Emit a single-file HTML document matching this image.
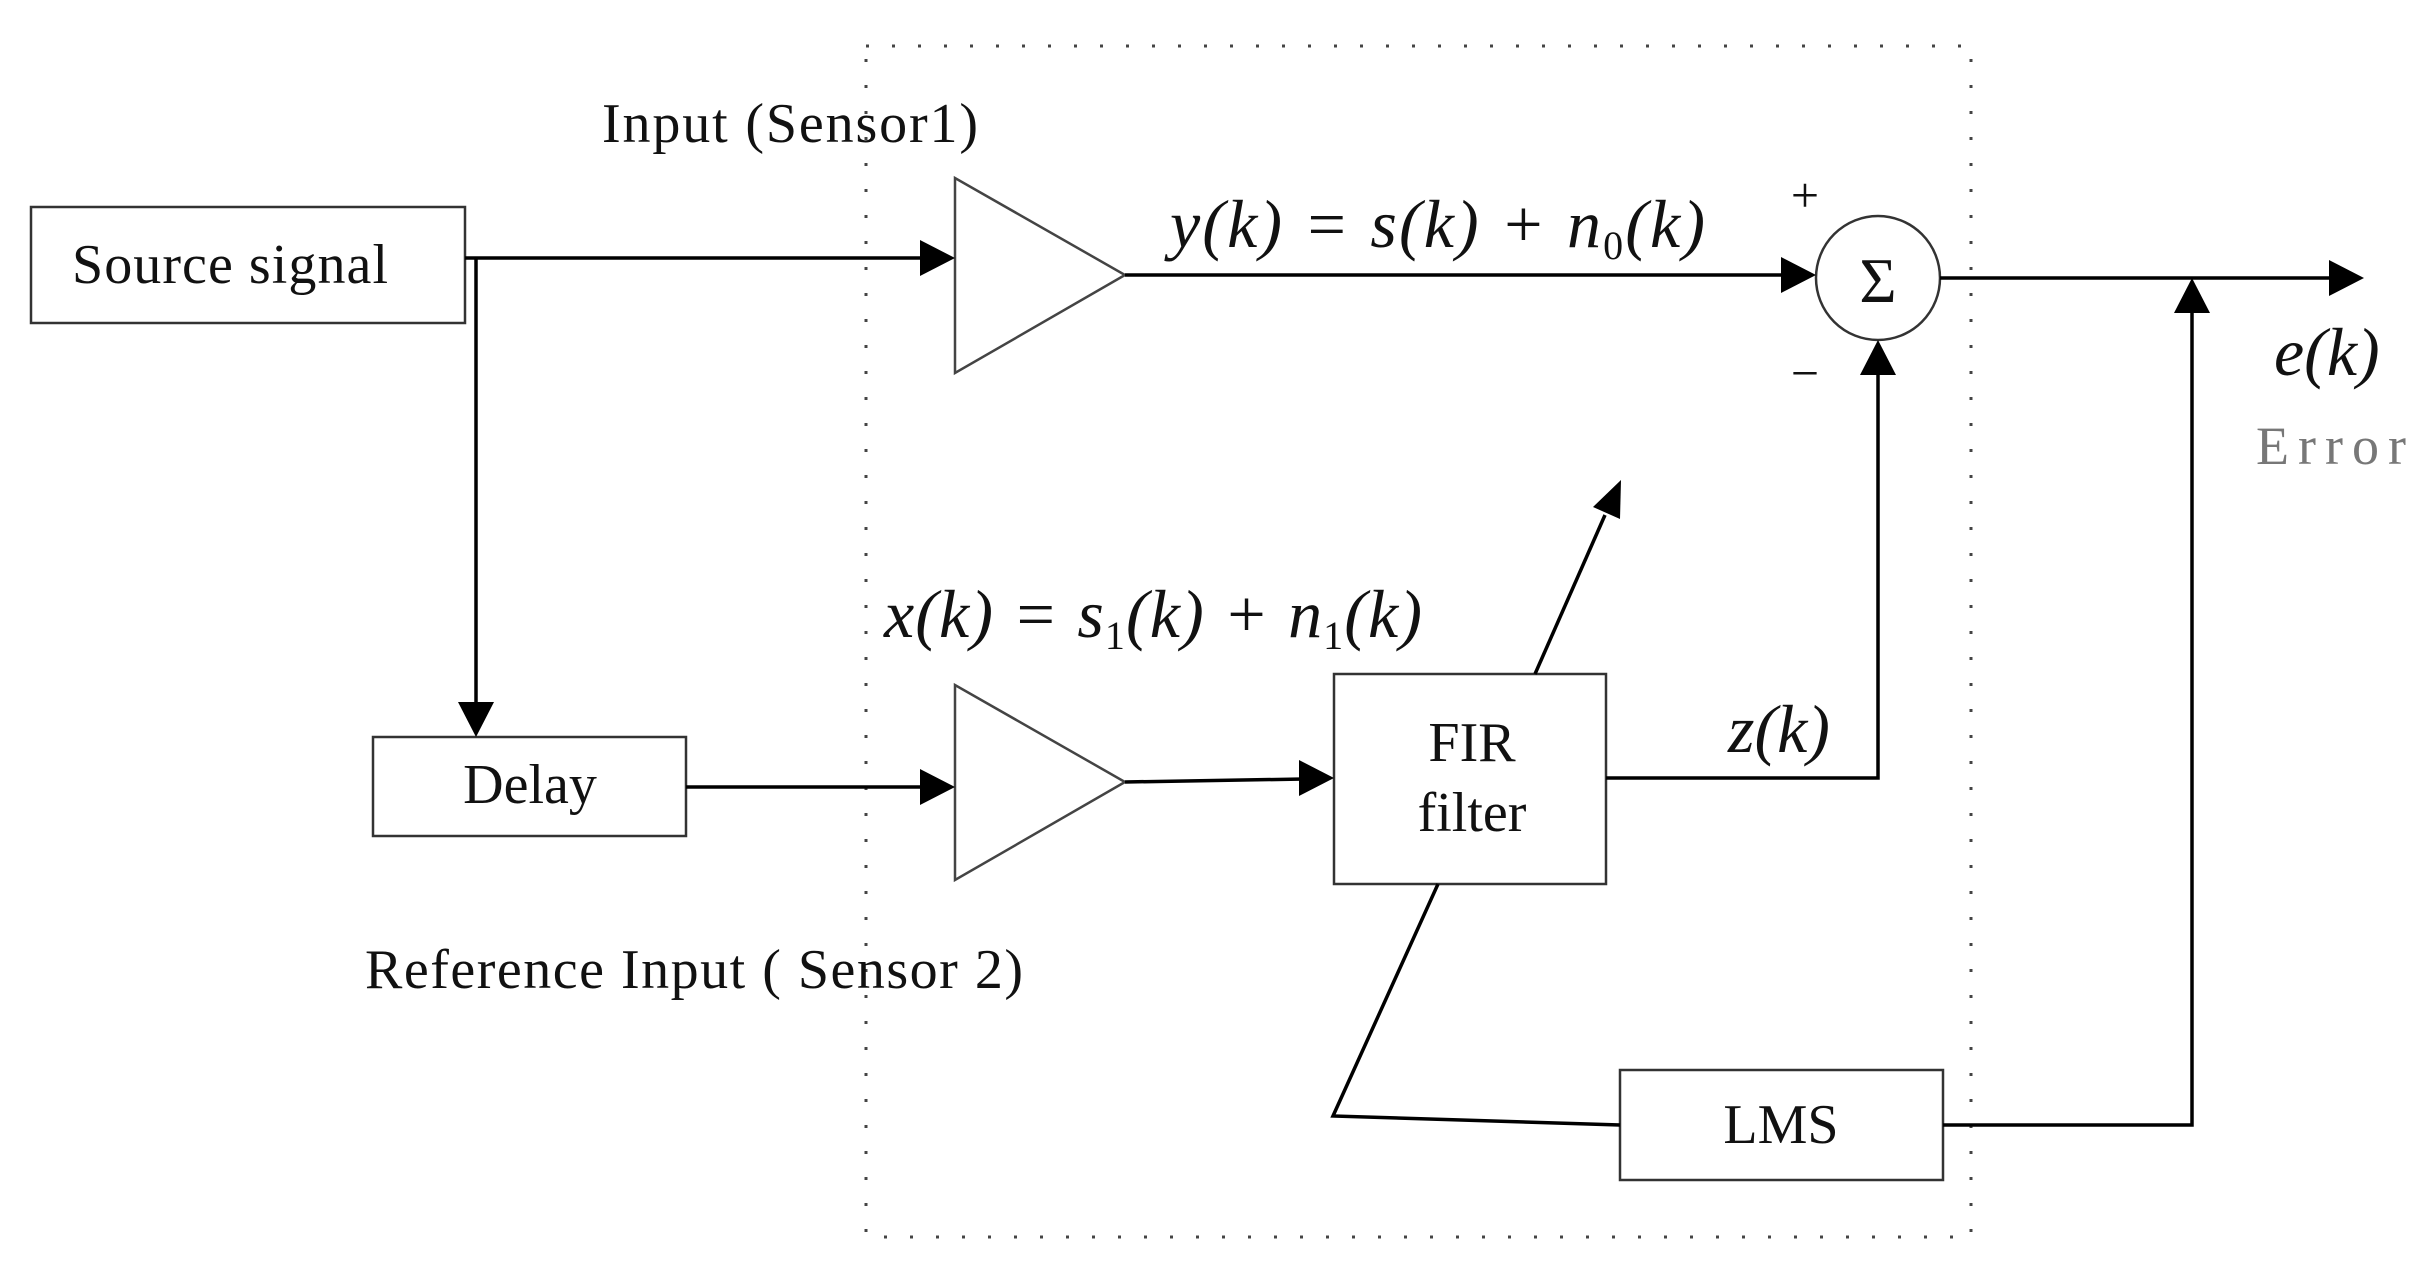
<!DOCTYPE html>
<html><head><meta charset="utf-8"><style>html,body{margin:0;padding:0;background:#fff}</style></head>
<body>
<svg width="2424" height="1273" viewBox="0 0 2424 1273" xmlns="http://www.w3.org/2000/svg" font-family="Liberation Serif, serif">
<g fill="none" stroke="#000">
<rect x="866" y="46" width="1105" height="1191" stroke-width="3" stroke-dasharray="3 23" stroke="#444"/>
<rect x="31" y="207" width="434" height="116" stroke-width="2.5" stroke="#333"/>
<rect x="373" y="737" width="313" height="99" stroke-width="2.5" stroke="#333"/>
<rect x="1334" y="674" width="272" height="210" stroke-width="2.5" stroke="#333"/>
<rect x="1620" y="1070" width="323" height="110" stroke-width="2.5" stroke="#333"/>
<polygon points="955,178 955,373 1125,275" stroke-width="2.5" stroke="#444"/>
<polygon points="955,685 955,880 1125,782" stroke-width="2.5" stroke="#444"/>
<circle cx="1878" cy="278" r="62" stroke-width="2.5" stroke="#333"/>
<g stroke-width="3.5">
<polyline points="465,258 925,258"/>
<polyline points="476,258 476,706"/>
<polyline points="686,787 925,787"/>
<polyline points="1125,275 1786,275"/>
<polyline points="1125,782 1304,779"/>
<polyline points="1606,778 1878,778 1878,370"/>
<polyline points="1940,278 2330,278"/>
<polyline points="1535,674 1605,515"/>
<polyline points="1438,884 1333,1116 1620,1125"/>
<polyline points="1943,1125 2192,1125 2192,310"/>
</g>
</g>
<g fill="#000">
<polygon points="955,258 920,240 920,276"/>
<polygon points="476,737 458,702 494,702"/>
<polygon points="955,787 920,769 920,805"/>
<polygon points="1816,275 1781,257 1781,293"/>
<polygon points="1334,778 1299,760 1299,796"/>
<polygon points="1878,340 1860,375 1896,375"/>
<polygon points="2364,278 2329,260 2329,296"/>
<polygon points="2192,278 2174,313 2210,313"/>
<polygon points="1621,480 1593,507 1620,519"/>
</g>
<g font-size="56" fill="#111">
<text x="72" y="283" textLength="316">Source signal</text>
<text x="530" y="803" text-anchor="middle">Delay</text>
<text x="1472" y="761" text-anchor="middle">FIR</text>
<text x="1472" y="831" text-anchor="middle">filter</text>
<text x="1781" y="1143" text-anchor="middle">LMS</text>
<text x="602" y="142" textLength="376">Input (Sensor1)</text>
<text x="365" y="988" textLength="658">Reference Input ( Sensor 2)</text>
<text x="1878" y="302" text-anchor="middle" font-size="64">Σ</text>
<text x="1805" y="212" text-anchor="middle" font-size="50">+</text>
<text x="1805" y="390" text-anchor="middle" font-size="50">−</text>
</g>
<g font-size="68" font-style="italic" fill="#111">
<text x="1170" y="247" textLength="535">y(k) = s(k) + n<tspan font-size="40" font-style="normal" dy="12">0</tspan><tspan dy="-12">(k)</tspan></text>
<text x="884" y="637" textLength="538">x(k) = s<tspan font-size="40" font-style="normal" dy="12">1</tspan><tspan dy="-12">(k) + n</tspan><tspan font-size="40" font-style="normal" dy="12">1</tspan><tspan dy="-12">(k)</tspan></text>
<text x="1728" y="752">z(k)</text>
<text x="2274" y="375">e(k)</text>
</g>
<text x="2256" y="464" font-size="54" fill="#777" textLength="150">Error</text>
</svg>
</body></html>
